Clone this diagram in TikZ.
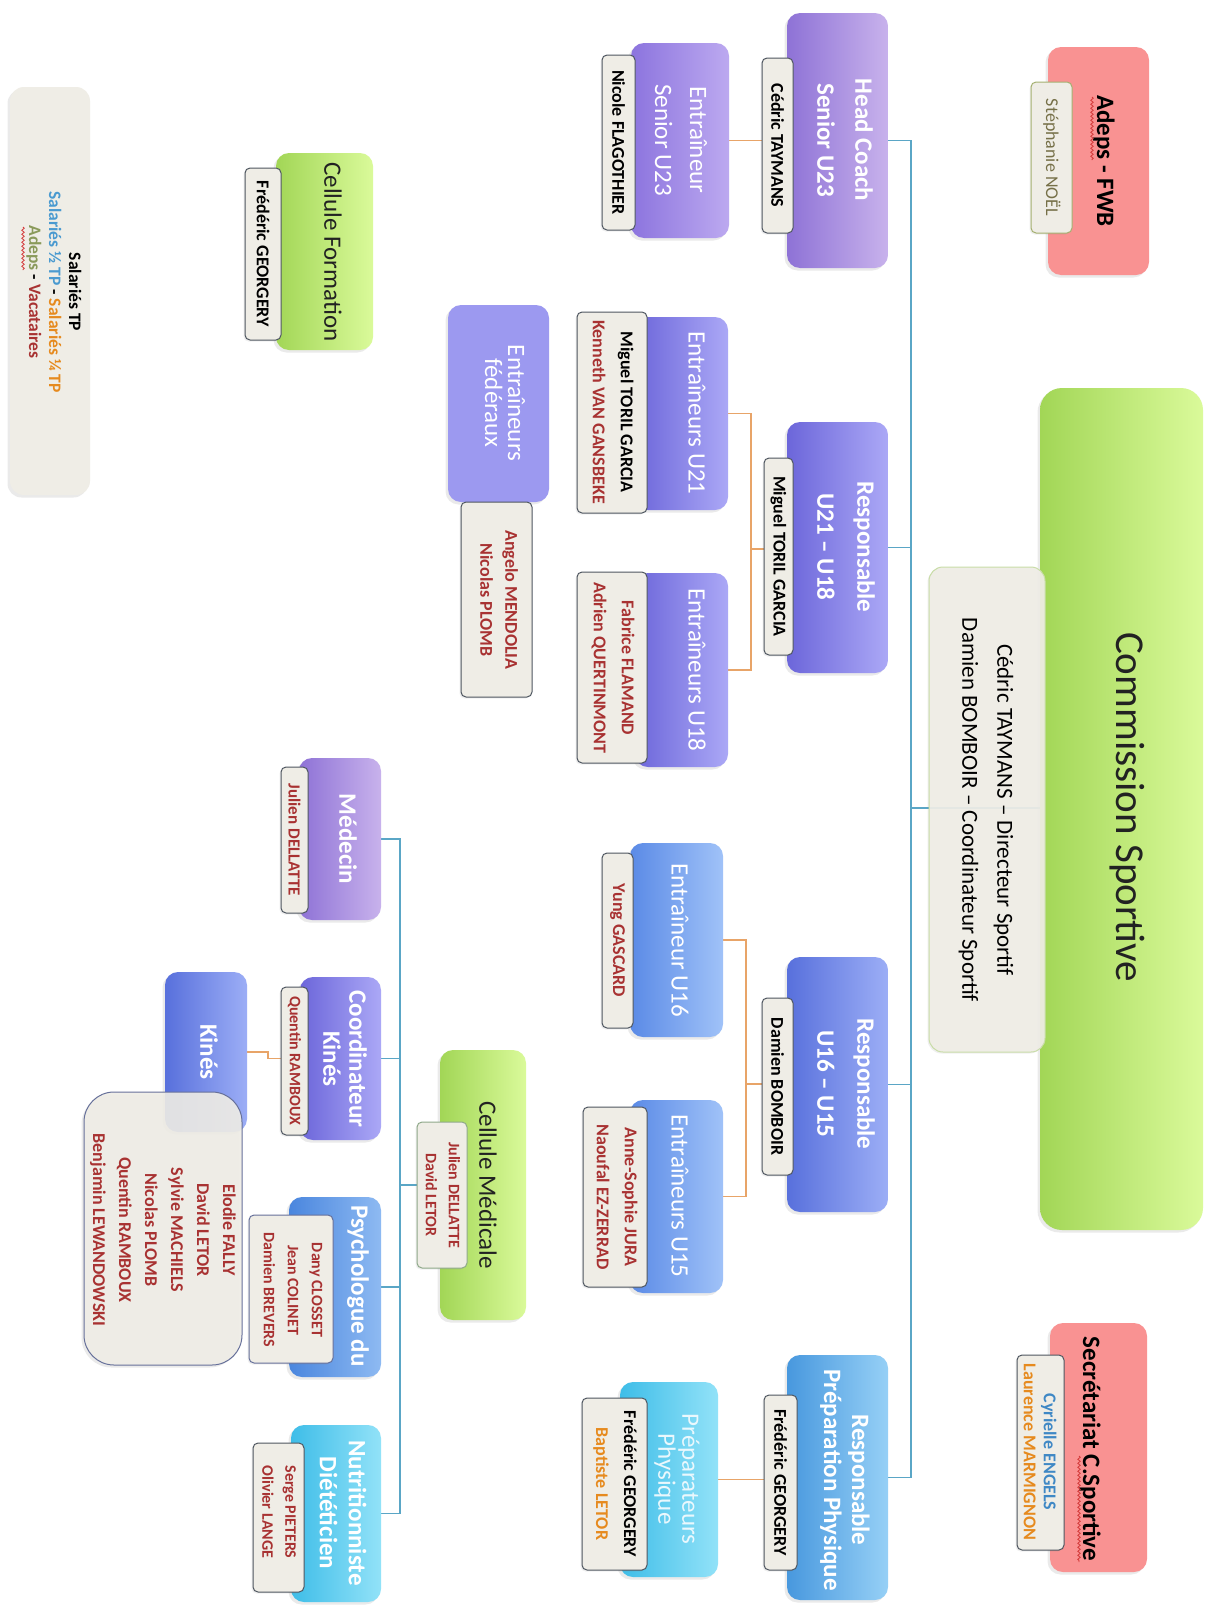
\documentclass[tikz,border=0pt]{standalone}
\usepackage{fontspec}
\setmainfont{Carlito}
\usetikzlibrary{shadows,decorations.pathmorphing}
\pgfdeclarelayer{bg}
\pgfsetlayers{bg,main}

\definecolor{cPurA}{HTML}{8E72D6}
\definecolor{cPurB}{HTML}{C8B2EC}
\definecolor{cPur2A}{HTML}{8C74DE}
\definecolor{cPur2B}{HTML}{BCA9F0}
\definecolor{cVioA}{HTML}{6C66DA}
\definecolor{cVioB}{HTML}{ABA8F6}
\definecolor{cFed}{HTML}{9C99F0}
\definecolor{cBluA}{HTML}{5870DC}
\definecolor{cBluB}{HTML}{9CAEF6}
\definecolor{cBl2A}{HTML}{5A8AE6}
\definecolor{cBl2B}{HTML}{A0C2F8}
\definecolor{cSkyA}{HTML}{4898DE}
\definecolor{cSkyB}{HTML}{96D0F6}
\definecolor{cPsyA}{HTML}{4A86DE}
\definecolor{cPsyB}{HTML}{8EBAF2}
\definecolor{cCyaA}{HTML}{3EBDE8}
\definecolor{cCyaB}{HTML}{92E2F8}
\definecolor{cGrnA}{HTML}{A2D656}
\definecolor{cGrnB}{HTML}{DAFA9A}
\definecolor{cPink}{HTML}{F99292}
\definecolor{cTag}{HTML}{EFEDE6}
\definecolor{cTagBd}{HTML}{4E5660}
\definecolor{cLine}{HTML}{5AA6C6}
\definecolor{cOrg}{HTML}{E8A468}
\definecolor{cRed}{HTML}{A83232}
\definecolor{cOrange}{HTML}{E68A1E}
\definecolor{cBlueT}{HTML}{3F88C5}
\definecolor{cOlive}{HTML}{767048}
\definecolor{cLgreen}{HTML}{8A9A5A}
\definecolor{cLblue}{HTML}{4A9AD0}
\definecolor{cDark}{HTML}{222222}
\definecolor{cFaint}{HTML}{EAF8FD}
\definecolor{cCsBd}{HTML}{C9DDA8}
\definecolor{cCmBd}{HTML}{8FA98A}
\definecolor{cOliveBd}{HTML}{A4B070}
\definecolor{cListBd}{HTML}{66709A}
\definecolor{cWavy}{HTML}{D43A3A}

\newcommand\obox[6]{\node[#6, minimum width={(#4)-(#2)}, minimum height={(#5)-(#3)}] (#1) at ({((#2)+(#4))/2},{((#3)+(#5))/2}) {};}

\tikzset{
 bx/.style={rounded corners=13pt, inner sep=0pt, outer sep=0pt, drop shadow={opacity=0.16, shadow xshift=-2.5pt, shadow yshift=-2.5pt}},
 gP/.style={bx, left color=cPurA, right color=cPurB},
 gPtwo/.style={bx, left color=cPur2A, right color=cPur2B},
 gV/.style={bx, left color=cVioA, right color=cVioB},
 gFed/.style={bx, fill=cFed},
 gB/.style={bx, left color=cBluA, right color=cBluB},
 gBtwo/.style={bx, left color=cBl2A, right color=cBl2B},
 gS/.style={bx, left color=cSkyA, right color=cSkyB},
 gPs/.style={bx, left color=cPsyA, right color=cPsyB},
 gC/.style={bx, left color=cCyaA, right color=cCyaB},
 gG/.style={bx, left color=cGrnA, right color=cGrnB},
 gK/.style={bx, fill=cPink},
 tagb/.style={rounded corners=5pt, inner sep=0pt, outer sep=0pt, fill=cTag, draw=cTagBd, line width=1pt, drop shadow={opacity=0.12, shadow xshift=-1.5pt, shadow yshift=-1.5pt}},
 ttl/.style={rotate=-90, align=center, text=white, inner sep=0pt, font=\fontsize{25}{#1}\selectfont\bfseries},
 ttl/.default=30,
 ttn/.style={rotate=-90, align=center, text=white, inner sep=0pt, font=\fontsize{25}{#1}\selectfont},
 ttn/.default=30,
 nm/.style={rotate=-90, align=center, inner sep=0pt, font=\fontsize{18}{#1}\selectfont\bfseries},
 nm/.default=27,
 bline/.style={draw=cLine, line width=1.3pt},
 oline/.style={draw=cOrg, line width=1.3pt},
 wavy/.style={draw=cWavy, line width=0.8pt, decorate, decoration={snake, amplitude=1.2pt, segment length=4pt}},
}

\begin{document}
\begin{tikzpicture}[x=1pt,y=-1pt]
\useasboundingbox (0,0) rectangle (1206,1606);
\begin{pgfonlayer}{bg}
\fill[white] (0,0) rectangle (1206,1606);
\end{pgfonlayer}

% legend
\obox{leg}{10}{87}{90}{495}{bx, fill=cTag, rounded corners=14pt}
\node[rotate=-90, align=center, inner sep=0pt, font=\fontsize{17.5}{20}\selectfont\bfseries] (leg-t) at (54,292)
 {Salariés TP\\\textcolor{cLblue}{Salariés ½ TP} - \textcolor{cOrange}{Salariés ¼ TP}\\\textcolor{cLgreen}{Adeps} - \textcolor{cRed}{Vacataires}};

% Cellule Formation
\obox{cf}{276}{153}{373}{350}{gG}
\obox{cftag}{245}{168}{281}{340}{tagb}
\node[ttn, text=cDark] (cf-t) at (333,252) {Cellule Formation};
\node[nm] (cftag-t) at (263,254) {Frédéric GEORGERY};

% Entraineurs federaux
\obox{efed}{448}{305}{549}{502}{gFed}
\obox{efedtag}{461}{502}{532}{697}{tagb}
\node[ttn=23] (efed-t) at (505,403) {Entraîneurs\\fédéraux};
\node[nm=25, text=cRed] (efedtag-t) at (499,600) {Angelo MENDOLIA\\Nicolas PLOMB};

% Entraineur Senior U23
\obox{esu}{631}{43}{729}{238}{gPtwo}
\obox{esutag}{602}{55}{635}{230}{tagb}
\node[ttn=35] (esu-t) at (681,140) {Entraîneur\\Senior U23};
\node[nm] (esutag-t) at (618.5,142.5) {Nicole FLAGOTHIER};

% Head coach
\obox{hc}{787}{13}{888}{268}{gP}
\obox{hctag}{762}{58}{793}{233}{tagb}
\node[ttl=38] (hc-t) at (845,140) {Head Coach\\Senior U23};
\node[nm] (hctag-t) at (777.5,145.5) {Cédric TAYMANS};

% Adeps
\obox{adeps}{1048}{47}{1149}{275}{gK}
\obox{adtag}{1031}{82}{1072}{233}{tagb, draw=cOliveBd}
\node[ttl, text=black] (adeps-t) at (1104,161) {Adeps - FWB};
\node[nm, font=\fontsize{18}{22}\selectfont, text=cOlive] (adtag-t) at (1052,157.5) {Stéphanie NOËL};

% U21 - U18
\obox{e21}{635}{317}{728}{510}{gV}
\obox{e21tag}{577}{312}{647}{513}{tagb}
\node[ttn] (e21-t) at (697,413) {Entraîneurs U21};
\node[nm=28] (e21tag-t) at (613,412) {Miguel TORIL GARCIA\\\textcolor{cRed}{Kenneth VAN GANSBEKE}};

\obox{e18}{635}{573}{728}{767}{gV}
\obox{e18tag}{577}{572}{647}{763}{tagb}
\node[ttn] (e18-t) at (697,670) {Entraîneurs U18};
\node[nm=28, text=cRed] (e18tag-t) at (613,668) {Fabrice FLAMAND\\Adrien QUERTINMONT};

\obox{r21}{787}{422}{888}{673}{gV}
\obox{r21tag}{764}{458}{793}{655}{tagb}
\node[ttl=40] (r21-t) at (846,547) {Responsable\\U21 – U18};
\node[nm] (r21tag-t) at (778.5,556.5) {Miguel TORIL GARCIA};

% Commission
\obox{cs}{1040}{388}{1203}{1230}{gG, rounded corners=22pt}
\obox{cstag}{929}{567}{1045}{1052}{tagb, draw=cCsBd, fill opacity=0.93, rounded corners=14pt}
\node[ttn, text=cDark, font=\fontsize{41}{41}\selectfont] (cs-t) at (1127,807) {Commission Sportive};
\node[nm, font=\fontsize{23}{35}\selectfont] (cstag-t) at (986,810) {Cédric TAYMANS – Directeur Sportif\\Damien BOMBOIR – Coordinateur Sportif};

% U16 - U15
\obox{e16}{630}{843}{723}{1037}{gBtwo}
\obox{e16tag}{602}{853}{633}{1028}{tagb}
\node[ttn] (e16-t) at (680,940) {Entraîneur U16};
\node[nm, text=cRed] (e16tag-t) at (617.5,940.5) {Yung GASCARD};

\obox{e15}{630}{1100}{723}{1293}{gBtwo}
\obox{e15tag}{583}{1107}{647}{1287}{tagb}
\node[ttn] (e15-t) at (680,1196) {Entraîneurs U15};
\node[nm=28, text=cRed] (e15tag-t) at (617,1197) {Anne-Sophie JURA\\Naoufal EZ-ZERRAD};

\obox{r16}{787}{957}{888}{1212}{gB}
\obox{r16tag}{762}{998}{793}{1175}{tagb}
\node[ttl=40] (r16-t) at (846,1084) {Responsable\\U16 – U15};
\node[nm] (r16tag-t) at (777.5,1086.5) {Damien BOMBOIR};

% Preparation physique
\obox{pp}{620}{1382}{718}{1577}{gC}
\obox{pptag}{582}{1398}{647}{1570}{tagb}
\node[ttn=24, text=cFaint] (pp-t) at (677,1479) {Préparateurs\\Physique};
\node[nm=28] (pptag-t) at (615,1484) {Frédéric GEORGERY\\\textcolor{cOrange}{Baptiste LETOR}};

\obox{rpp}{787}{1355}{888}{1600}{gS}
\obox{rpptag}{764}{1395}{797}{1570}{tagb}
\node[ttl=28] (rpp-t) at (845,1480) {Responsable\\Préparation Physique};
\node[nm] (rpptag-t) at (780.5,1482.5) {Frédéric GEORGERY};

% Secretariat
\obox{sec}{1050}{1323}{1147}{1572}{gK}
\obox{sectag}{1017}{1355}{1064}{1550}{tagb}
\node[ttl, text=black] (sec-t) at (1090,1449) {Secrétariat C.Sportive};
\node[nm=20] (sectag-t) at (1040,1452) {\textcolor{cBlueT}{Cyrielle ENGELS}\\\textcolor{cOrange}{Laurence MARMIGNON}};

% Medical
\obox{med}{299}{758}{381}{920}{gP}
\obox{medtag}{281}{767}{308}{913}{tagb}
\node[ttl] (med-t) at (348,839) {Médecin};
\node[nm, text=cRed, font=\fontsize{17}{20}\selectfont\bfseries] (medtag-t) at (294.5,840) {Julien DELLATTE};

\obox{ck}{300}{977}{381}{1140}{gV}
\obox{cktag}{281}{987}{308}{1135}{tagb}
\node[ttl=26] (ck-t) at (345,1059) {Coordinateur\\Kinés};
\node[nm, text=cRed, font=\fontsize{16}{20}\selectfont\bfseries] (cktag-t) at (294.5,1061) {Quentin RAMBOUX};

\obox{kin}{165}{972}{247}{1132}{gB}
\node[ttl] (kin-t) at (209,1052) {Kinés};

\obox{kinl}{84}{1092}{242}{1365}{bx, fill=cTag, fill opacity=0.9, draw=cListBd, line width=1pt, rounded corners=30pt}
\node[nm=26, text=cRed] (kinl-t) at (163,1230) {Elodie FALLY\\David LETOR\\Sylvie MACHIELS\\Nicolas PLOMB\\Quentin RAMBOUX\\Benjamin LEWANDOWSKI};

\obox{cm}{440}{1050}{526}{1320}{gG}
\obox{cmtag}{417}{1122}{467}{1268}{tagb, draw=cCmBd}
\node[ttn, text=cDark] (cm-t) at (488,1185) {Cellule Médicale};
\node[nm, text=cRed, font=\fontsize{16}{23}\selectfont\bfseries] (cmtag-t) at (443,1195) {Julien DELLATTE\\David LETOR};

\obox{psy}{289}{1197}{381}{1377}{gPs}
\obox{psytag}{249}{1215}{333}{1363}{tagb, draw=cListBd}
\node[ttl] (psy-t) at (358,1286) {Psychologue du};
\node[nm, text=cRed, font=\fontsize{16}{24}\selectfont\bfseries] (psytag-t) at (293,1290) {Dany CLOSSET\\Jean COLINET\\Damien BREVERS};

\obox{nut}{291}{1425}{381}{1602}{gC}
\obox{nuttag}{253}{1443}{304}{1592}{tagb}
\node[ttl=29] (nut-t) at (343,1513) {Nutritionniste\\Diététicien};
\node[nm, text=cRed, font=\fontsize{16}{23}\selectfont\bfseries] (nuttag-t) at (279,1512) {Serge PIETERS\\Olivier LANGE};

% spell-check wavy underlines
\draw[wavy] (1092,97) -- (1092,160);
\draw[wavy] (1079,1456) -- (1079,1562);
\draw[wavy] (23,227) -- (23,270);

% connectors
\begin{pgfonlayer}{bg}
\coordinate (tk) at (911,808);
\draw[bline] (hc.east) -| (tk);
\draw[bline] (r21.east) -| (tk);
\draw[bline] (r16.east) -| (tk);
\draw[bline] (rpp.east) -| (tk);
\draw[bline] (tk) -- (cs.west |- tk);
\coordinate (o21) at (751,549);
\draw[oline] (e21.east) -| (o21);
\draw[oline] (e18.east) -| (o21);
\draw[oline] (o21) -- (r21tag.west |- o21);
\coordinate (o16) at (746,1084);
\draw[oline] (e16.east) -| (o16);
\draw[oline] (e15.east) -| (o16);
\draw[oline] (o16) -- (r16tag.west |- o16);
\draw[oline] (esu.east) -- (hctag.west |- esu.east);
\draw[oline] (pp.east) -- (rpptag.west |- pp.east);
\coordinate (mt) at (400,1185);
\draw[bline] (med.east) -| (mt);
\draw[bline] (ck.east) -| (mt);
\draw[bline] (psy.east) -| (mt);
\draw[bline] (nut.east) -| (mt);
\draw[bline] (mt) -- (cmtag.west |- mt);
\draw[oline] (kin.east) -- ++(21,0) |- (cktag.west |- ck.east);
\end{pgfonlayer}
\end{tikzpicture}
\end{document}
